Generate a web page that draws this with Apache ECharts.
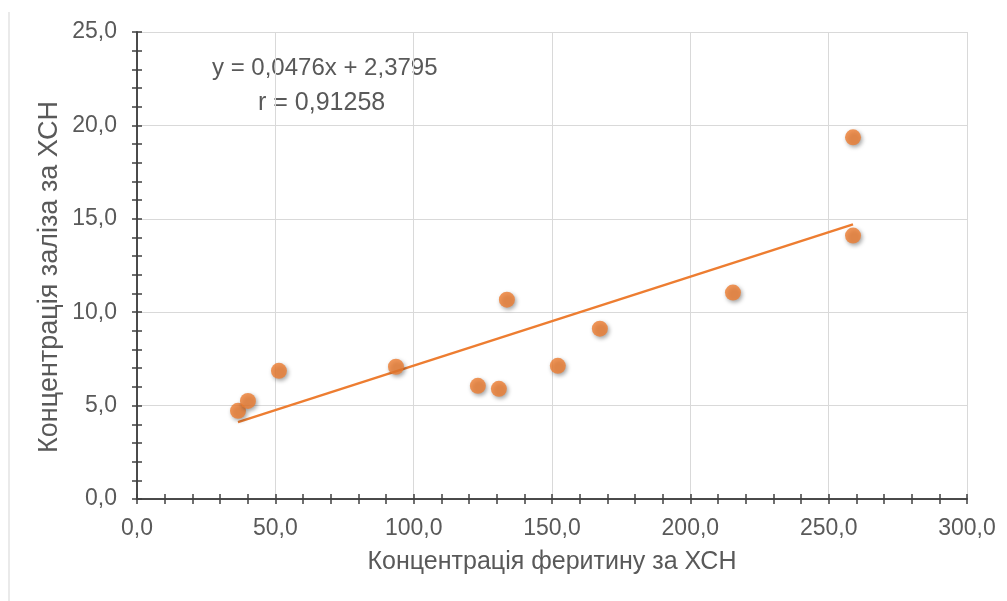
<!DOCTYPE html>
<html>
<head>
<meta charset="utf-8">
<script src="https://cdn.jsdelivr.net/npm/echarts@6/dist/echarts.min.js"></script>
<style>
html,body{margin:0;padding:0;background:#fff;}
#c{width:1007px;height:601px;}
</style>
</head>
<body>
<div id="c"></div>
<script>
// Data
var ferritin = [36.5, 40.1, 51.3, 93.6, 123.2, 130.8, 133.7, 152.1, 167.3, 215.4, 258.8, 258.8];
var iron     = [4.72, 5.25, 6.86, 7.08, 6.06, 5.90, 10.67, 7.13, 9.12, 11.05, 19.36, 14.10];
var slope = 0.0476;
var intercept = 2.3795;
var rValue = '0,91258';
var trendX = [36.5, 258.8];
var xName = 'Концентрація феритину за ХСН';
var yName = 'Концентрація заліза за ХСН';

var points = ferritin.map(function (x, i) { return [x, iron[i]]; });
var trend = trendX.map(function (x) { return [x, slope * x + intercept]; });
var fmt = function (v) { return v.toFixed(1).replace('.', ','); };
var eqText = 'y = ' + String(slope).replace('.', ',') + 'x + ' + String(intercept).replace('.', ',');

var txt = '#595959';
var axisCol = '#404040';
var font = 'Liberation Sans, Arial, sans-serif';

var chart = echarts.init(document.getElementById('c'), null, {renderer: 'canvas'});

function xAx(inside, main) {
  return {
    type: 'value', min: 0, max: 300, interval: 50, position: 'bottom',
    name: main ? xName : '', nameLocation: 'middle', nameGap: 51,
    nameTextStyle: {color: txt, fontSize: 25, fontFamily: font},
    axisLine: {show: true, onZero: false, lineStyle: {color: axisCol, width: 1.5}},
    axisTick: {show: true, inside: inside, length: 5, lineStyle: {color: axisCol, width: 1.5}},
    minorTick: {show: true, splitNumber: 5, length: 5, lineStyle: {color: axisCol, width: 1.5}},
    axisLabel: {show: main, formatter: fmt, color: txt, fontSize: 23, fontFamily: font, margin: 18},
    splitLine: {show: main, lineStyle: {color: '#d9d9d9', width: 1}},
    minorSplitLine: {show: false}
  };
}
function yAx(inside, main) {
  return {
    type: 'value', min: 0, max: 25, interval: 5, position: 'left',
    name: '', 
    axisLine: {show: true, onZero: false, lineStyle: {color: axisCol, width: 1.5}},
    axisTick: {show: true, inside: inside, length: 5, lineStyle: {color: axisCol, width: 1.5}},
    minorTick: {show: true, splitNumber: 5, length: 5, lineStyle: {color: axisCol, width: 1.5}},
    axisLabel: {show: main, formatter: fmt, color: txt, fontSize: 23, fontFamily: font, margin: 20},
    splitLine: {show: main, lineStyle: {color: '#d9d9d9', width: 1}},
    minorSplitLine: {show: false}
  };
}

chart.setOption({
  backgroundColor: '#fff',
  animation: false,
  grid: {left: 137, right: 40, top: 32, bottom: 102},
  xAxis: [xAx(false, true), xAx(true, false)],
  yAxis: [yAx(false, true), yAx(true, false)],
  graphic: [
    {type: 'line', shape: {x1: 9, y1: 12, x2: 9, y2: 601}, style: {stroke: '#e3e3e3', lineWidth: 1.5}, silent: true},
    {type: 'text', left: 212, top: 56, style: {text: eqText, fill: txt, font: '24px ' + font}},
    {type: 'text', left: 258, top: 91, style: {text: 'r = ' + rValue, fill: txt, font: '25px ' + font}},
    {type: 'text', x: 50, y: 277, rotation: Math.PI / 2,
     style: {text: yName, fill: txt, font: '27px ' + font, align: 'center', verticalAlign: 'middle'}}
  ],
  series: [
    {
      type: 'line', data: trend, xAxisIndex: 0, yAxisIndex: 0,
      showSymbol: false, symbol: 'none',
      lineStyle: {color: '#ED7D31', width: 2.5}, z: 3, silent: true
    },
    {
      type: 'scatter', data: points, xAxisIndex: 0, yAxisIndex: 0,
      symbol: 'circle', symbolSize: 16,
      itemStyle: {color: '#ED7D31', shadowBlur: 4, shadowColor: 'rgba(0,0,0,0.45)', shadowOffsetX: 1.5, shadowOffsetY: 2},
      z: 4
    }
  ]
});
</script>
</body>
</html>
